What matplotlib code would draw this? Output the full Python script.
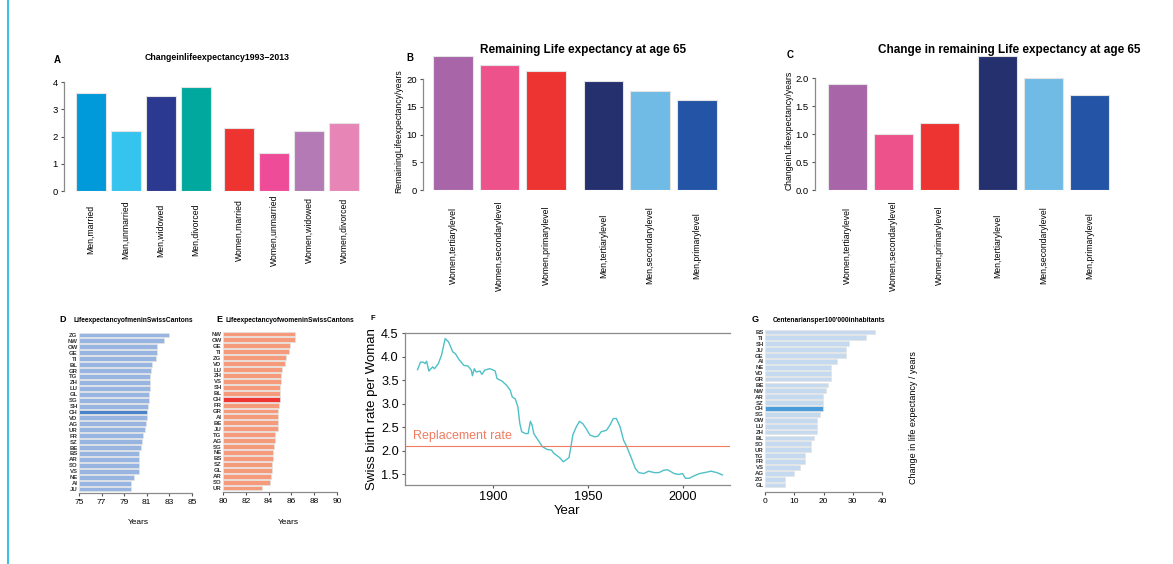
import matplotlib
matplotlib.use("Agg")
import matplotlib.pyplot as plt
from matplotlib.ticker import FormatStrFormatter

plt.rcParams['font.family'] = ['Liberation Sans', 'DejaVu Sans']

W, H = 1173, 564

# ---- data ----
a_labels = ['Men,married', 'Man,unmarried', 'Men,widowed', 'Men,divorced',
            'Women,married', 'Women,unmarried', 'Women,widowed', 'Women,divorced']
a_values = [3.6, 2.2, 3.5, 3.8, 2.3, 1.4, 2.2, 2.5]

edu_labels = ['Women,tertiarylevel', 'Women,secondarylevel', 'Women,primarylevel',
              'Men,tertiarylevel', 'Men,secondarylevel', 'Men,primarylevel']
b_values = [24.1, 22.5, 21.4, 19.6, 17.9, 16.3]
c_values = [1.9, 1.0, 1.2, 2.4, 2.0, 1.7]

d_cantons = ['ZG', 'NW', 'OW', 'GE', 'TI', 'BL', 'GR', 'TG', 'ZH', 'LU', 'GL', 'SG', 'SH', 'CH',
             'VD', 'AG', 'UR', 'FR', 'SZ', 'BE', 'BS', 'AR', 'SO', 'VS', 'NE', 'AI', 'JU']
d_values = [83.0, 82.5, 81.9, 81.9, 81.8, 81.5, 81.4, 81.3, 81.3, 81.3, 81.2, 81.2, 81.1, 81.0,
            81.0, 80.9, 80.8, 80.7, 80.6, 80.5, 80.3, 80.3, 80.3, 80.3, 79.9, 79.6, 79.6]

e_cantons = ['NW', 'OW', 'GE', 'TI', 'ZG', 'VD', 'LU', 'ZH', 'VS', 'SH', 'BL', 'CH', 'FR', 'GR',
             'AI', 'BE', 'JU', 'TG', 'AG', 'SG', 'NE', 'BS', 'SZ', 'GL', 'AR', 'SO', 'UR']
e_values = [86.3, 86.3, 85.9, 85.8, 85.5, 85.4, 85.2, 85.1, 85.1, 85.0, 85.0, 85.0, 84.9, 84.8,
            84.8, 84.8, 84.8, 84.6, 84.6, 84.5, 84.4, 84.4, 84.3, 84.3, 84.2, 84.1, 83.4]

f_years = [1860, 1861.6, 1863, 1864, 1864.8, 1866, 1868, 1869, 1871, 1872.7, 1874.6, 1876.4,
           1878.6, 1880, 1882, 1884.5, 1886.6, 1888.4, 1889, 1890, 1891, 1893, 1894, 1895.5,
           1898, 1899.6, 1901, 1902, 1904.5, 1907, 1909, 1910, 1911.6, 1913, 1914, 1915, 1917,
           1918.4, 1919.6, 1920.5, 1921.4, 1923, 1926, 1928.6, 1930.7, 1932, 1935, 1937, 1938.4,
           1940, 1941, 1942, 1943.8, 1945.5, 1947.3, 1949, 1951, 1953.6, 1955.4, 1957, 1959.8,
           1961.6, 1963.4, 1965, 1967, 1968.8, 1970.5, 1973, 1975, 1976.8, 1979.5, 1982, 1985,
           1987.5, 1990, 1992, 1993.8, 1995.5, 1998, 2000, 2001.4, 2003.5, 2006, 2009, 2011.6,
           2015, 2018, 2021]
f_rate = [3.72, 3.88, 3.88, 3.85, 3.90, 3.69, 3.78, 3.74, 3.85, 4.03, 4.38, 4.31,
          4.10, 4.06, 3.93, 3.81, 3.80, 3.71, 3.59, 3.74, 3.67, 3.69, 3.62, 3.71,
          3.74, 3.72, 3.69, 3.53, 3.48, 3.39, 3.28, 3.14, 3.10, 2.93, 2.58, 2.40, 2.36,
          2.36, 2.62, 2.54, 2.36, 2.26, 2.08, 2.02, 2.01, 1.94, 1.85, 1.76, 1.80,
          1.85, 2.08, 2.33, 2.50, 2.62, 2.57, 2.47, 2.33, 2.29, 2.31, 2.40, 2.43,
          2.54, 2.68, 2.68, 2.50, 2.22, 2.08, 1.83, 1.62, 1.53, 1.51, 1.56, 1.53,
          1.53, 1.58, 1.59, 1.55, 1.51, 1.49, 1.51, 1.41, 1.41, 1.46, 1.51, 1.53,
          1.56, 1.53, 1.48]
replacement_rate = 2.1

g_cantons = ['BS', 'TI', 'SH', 'JU', 'GE', 'AI', 'NE', 'VD', 'GR', 'BE', 'NW', 'AR', 'SZ', 'CH',
             'SG', 'OW', 'LU', 'ZH', 'BL', 'SO', 'UR', 'TG', 'FR', 'VS', 'AG', 'ZG', 'GL']
g_values = [37.5, 34.5, 28.6, 27.6, 27.6, 24.6, 22.6, 22.6, 22.6, 21.7, 20.8, 19.7, 19.7, 19.7,
            18.9, 17.7, 17.7, 17.7, 16.9, 15.8, 15.8, 13.8, 13.8, 12.0, 9.9, 6.9, 6.9]

# ---- styles ----
a_colors = ['#0099DA', '#35C4EE', '#2B3990', '#00A89D', '#EE3431', '#EE4C98', '#B47AB5', '#E786B6']
edu_colors = ['#A866A9', '#EE528A', '#EE3432', '#25316E', '#70BBE6', '#2354A5']
AXIS_GRAY = '#8a8a8a'
EDGE = '#e4e4e4'

fig = plt.figure(figsize=(W / 100, H / 100), dpi=100)


def px_axes(x0, y0, x1, y1):
    return fig.add_axes([x0 / W, 1 - y1 / H, (x1 - x0) / W, (y1 - y0) / H])


def px_text(x, y, s, **kw):
    return fig.text(x / W, 1 - y / H, s, **kw)


def bar_panel(ax, pos, vals, labels, colors, xlim, ylim, yb, pad):
    ax.bar(pos, vals, width=0.85, color=colors, edgecolor=EDGE, linewidth=0.8)
    ax.set_xlim(*xlim)
    ax.set_ylim(*ylim)
    for s in ['top', 'right', 'bottom']:
        ax.spines[s].set_visible(False)
    ax.spines['left'].set_color(AXIS_GRAY)
    ax.spines['left'].set_linewidth(0.9)
    ax.spines['left'].set_bounds(*yb)
    ax.set_xticks(pos)
    ax.set_xticklabels(labels, rotation=90, va='center', fontsize=6.2)
    ax.tick_params(axis='x', length=0, pad=pad)
    ax.tick_params(axis='y', length=2.5, width=0.8, color='#555555', labelsize=6.8, pad=2)
    ax.patch.set_alpha(0)


# left border line
fig.add_artist(plt.Line2D([8 / W, 8 / W], [0, 1], color='#3EC1E2', linewidth=1.5))

# ---- A ----
axA = px_axes(64, 82, 362, 191)
posA = [0, 1, 2, 3, 4.23, 5.23, 6.23, 7.23]
bar_panel(axA, posA, a_values, a_labels, a_colors, (-0.77, 7.74), (0, 4), (0, 4), 28)
axA.set_yticks([0, 1, 2, 3, 4])
px_text(217, 57, 'Changeinlifeexpectancy1993\u22122013', ha='center', va='center',
        fontsize=6.3, fontweight='bold')
px_text(57, 60, 'A', ha='center', va='center', fontsize=7, fontweight='bold')

# ---- B ----
axB = px_axes(423, 55.7, 720, 190)
posB = [0, 1, 2, 3.24, 4.24, 5.24]
bar_panel(axB, posB, b_values, edu_labels, edu_colors, (-0.645, 5.74), (0, 24.2), (0, 20), 40)
axB.set_yticks([0, 5, 10, 15, 20])
px_text(583, 50, 'Remaining Life expectancy at age 65', ha='center', va='center',
        fontsize=8.5, fontweight='bold')
px_text(410, 58, 'B', ha='center', va='center', fontsize=7, fontweight='bold')
px_text(399, 131, 'RemainingLifeexpectancy/years', ha='center', va='center',
        rotation=90, fontsize=6.2)

# ---- C ----
axC = px_axes(815, 55.6, 1115, 190)
posC = [0, 1, 2, 3.26, 4.26, 5.26]
bar_panel(axC, posC, c_values, edu_labels, edu_colors, (-0.71, 5.82), (0, 2.4), (0, 2.0), 40)
axC.set_yticks([0, 0.5, 1.0, 1.5, 2.0])
axC.yaxis.set_major_formatter(FormatStrFormatter('%.1f'))
px_text(1009, 50, 'Change in remaining Life expectancy at age 65', ha='center', va='center',
        fontsize=8.5, fontweight='bold')
px_text(790, 55, 'C', ha='center', va='center', fontsize=7, fontweight='bold')
px_text(789, 130, 'ChangeinLifeexpectancy/years', ha='center', va='center',
        rotation=90, fontsize=6.2)


# ---- D / E / G horizontal bars ----
def hbar_panel(ax, cantons, vals, base, color, hl, xlim, ylim, xticks):
    pos = list(range(len(cantons)))
    cols = [hl if c == 'CH' else color for c in cantons]
    ax.barh(pos, [v - base for v in vals], left=base, height=0.82, color=cols,
            edgecolor=EDGE, linewidth=0.5)
    ax.set_xlim(*xlim)
    ax.set_ylim(*ylim)
    ax.set_yticks(pos)
    ax.set_yticklabels(cantons, fontsize=4.3, fontweight='bold', color='#333333')
    ax.tick_params(axis='y', length=0, pad=1)
    ax.set_xticks(xticks)
    ax.tick_params(axis='x', length=2.5, width=0.8, color='#555555', labelsize=6, pad=2)
    for s in ['top', 'right', 'left']:
        ax.spines[s].set_visible(False)
    ax.spines['bottom'].set_color(AXIS_GRAY)
    ax.spines['bottom'].set_linewidth(0.9)
    ax.patch.set_alpha(0)


axD = px_axes(79, 331, 192, 493)
hbar_panel(axD, d_cantons, d_values, 75, '#98B4E1', '#4A83C9', (75, 85), (26.67, -0.67),
           [75, 77, 79, 81, 83, 85])
px_text(63, 320, 'D', ha='center', va='center', fontsize=6.5, fontweight='bold')
px_text(73, 320, 'LifeexpectancyofmeninSwissCantons', ha='left', va='center',
        fontsize=4.8, fontweight='bold')
px_text(138, 522, 'Years', ha='center', va='center', fontsize=6)

axE = px_axes(223, 330, 337, 492)
hbar_panel(axE, e_cantons, e_values, 80, '#F59A7B', '#EE3430', (80, 90), (26.67, -0.67),
           [80, 82, 84, 86, 88, 90])
px_text(219, 320, 'E', ha='center', va='center', fontsize=6.5, fontweight='bold')
px_text(226, 320, 'LifeexpectancyofwomeninSwissCantons', ha='left', va='center',
        fontsize=4.8, fontweight='bold')
px_text(288, 522, 'Years', ha='center', va='center', fontsize=6)

axG = px_axes(765, 328, 882, 492)
hbar_panel(axG, g_cantons, g_values, 0, '#C6DAEF', '#4A9BDA', (0, 40), (27.18, -0.67),
           [0, 10, 20, 30, 40])
px_text(755, 320, 'G', ha='center', va='center', fontsize=6.5, fontweight='bold')
px_text(773, 320, "Centenariansper100'000inhabitants", ha='left', va='center',
        fontsize=4.8, fontweight='bold')
px_text(914, 418, 'Change in life expectancy / years', ha='center', va='center',
        rotation=90, fontsize=6.5)

# ---- F ----
axF = px_axes(405, 333, 730, 485)
axF.plot(f_years, f_rate, color='#4EC0C6', linewidth=1.0)
axF.axhline(replacement_rate, color='#F07C62', linewidth=0.8)
axF.text(1857.5, 2.3, 'Replacement rate', color='#F07C62', fontsize=9, ha='left', va='center')
axF.set_xlim(1853.4, 2025)
axF.set_ylim(1.266, 4.5)
axF.set_yticks([1.5, 2.0, 2.5, 3.0, 3.5, 4.0, 4.5])
axF.yaxis.set_major_formatter(FormatStrFormatter('%.1f'))
axF.set_xticks([1900, 1950, 2000])
axF.spines['right'].set_visible(False)
for s in ['top', 'left', 'bottom']:
    axF.spines[s].set_color(AXIS_GRAY)
    axF.spines[s].set_linewidth(0.9)
axF.tick_params(axis='both', length=2.5, width=0.8, color='#555555', labelsize=9.2, pad=2)
axF.set_xlabel('Year', fontsize=9.5, labelpad=1)
axF.set_ylabel('Swiss birth rate per Woman', fontsize=9.5, labelpad=2)
axF.patch.set_alpha(0)
px_text(373, 318, 'F', ha='center', va='center', fontsize=5.5, fontweight='bold')

fig.savefig('out.png', dpi=100)
